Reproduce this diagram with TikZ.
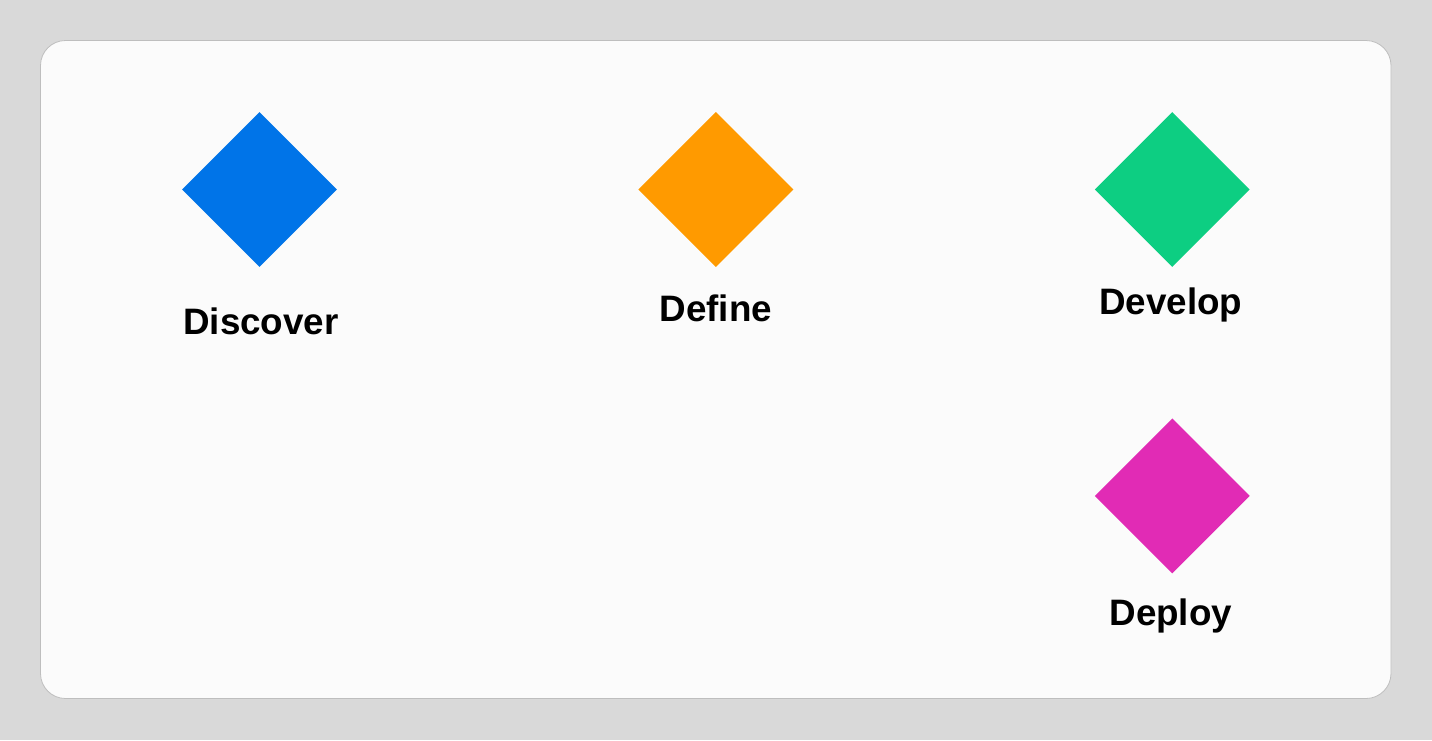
\documentclass[tikz,border=0pt]{standalone}
\usepackage{fontspec}
\setmainfont{Liberation Sans}
\usetikzlibrary{positioning,shapes.geometric}
\definecolor{pagegray}{RGB}{217,217,217}
\definecolor{cardwhite}{RGB}{251,251,251}
\definecolor{cardedge}{RGB}{190,190,190}
\definecolor{discblue}{RGB}{0,116,232}
\definecolor{deforange}{RGB}{255,154,0}
\definecolor{devgreen}{RGB}{13,206,130}
\definecolor{depmagenta}{RGB}{225,43,181}
\tikzstyle{dbox}=[diamond, aspect=1, inner sep=0pt, minimum width=155pt,
                  minimum height=155pt, draw=none]
\tikzstyle{dlabel}=[inner sep=0pt, text height=26.3pt, text depth=7.5pt,
                    font=\fontsize{36.8}{42}\selectfont\bfseries]

\begin{document}
\begin{tikzpicture}[x=1pt,y=-1pt,node distance=0mm]
\useasboundingbox (0,0) rectangle (1432,740);
\fill[pagegray] (0,0) rectangle (1432,740);
\draw[cardedge, fill=cardwhite, rounded corners=25pt, line width=0.8pt] (40.5,40.5) rectangle (1391,698.5);

\node (DISCOVER) [dbox, fill=discblue] at (259.5,189.5) {};
\node (DISCOVERL) [dlabel, below=41pt of DISCOVER, xshift=1.5pt] {Discover};

\node (DEFINE) [dbox, fill=deforange, right=301pt of DISCOVER] {};
\node (DEFINEL) [dlabel, below=28pt of DEFINE] {Define};

\node (DEVELOP) [dbox, fill=devgreen, right=301pt of DEFINE] {};
\node (DEVELOPL) [dlabel, below=21pt of DEVELOP, xshift=-1.5pt] {Develop};

\node (DEPLOY) [dbox, fill=depmagenta, below=151pt of DEVELOP] {};
\node (DEPLOYL) [dlabel, below=25pt of DEPLOY, xshift=-1.5pt] {Deploy};

\end{tikzpicture}
\end{document}
